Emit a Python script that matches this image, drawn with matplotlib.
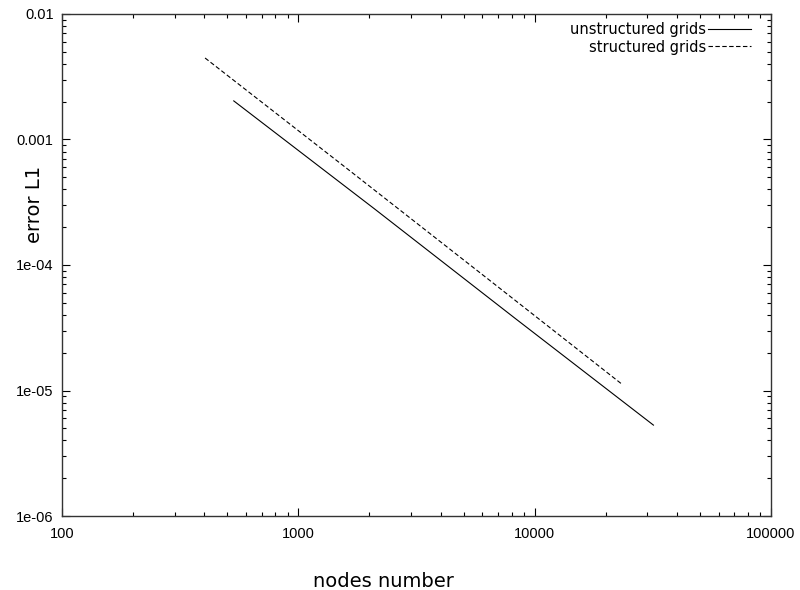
import matplotlib
matplotlib.use('Agg')
import matplotlib.pyplot as plt
from matplotlib.ticker import FixedLocator, FixedFormatter, LogLocator, NullFormatter

# values (log-log, straight lines)
unstruct_nodes = [533, 2100, 8200, 31800]
unstruct_err = [2.03e-3, 2.8e-4, 3.8e-5, 5.3e-6]
struct_nodes = [403, 1600, 6200, 23300]
struct_err = [4.46e-3, 5.9e-4, 8.0e-5, 1.13e-5]

xticks = [100, 1000, 10000, 100000]
xticklabels = ['100', '1000', '10000', '100000']
yticks = [1e-6, 1e-5, 1e-4, 1e-3, 1e-2]
yticklabels = ['1e-06', '1e-05', '1e-04', '0.001', '0.01']

fig = plt.figure(figsize=(8, 5.9), dpi=100)
ax = fig.add_axes([0.0775, 0.1254, 0.8863, 0.8509])

ax.plot(unstruct_nodes, unstruct_err, color='black', lw=0.8, label='unstructured grids')
ax.plot(struct_nodes, struct_err, color='black', lw=0.8, dashes=(4, 2.2), label='structured grids')

ax.set_xscale('log')
ax.set_yscale('log')
ax.set_xlim(100, 100000)
ax.set_ylim(1e-6, 1e-2)

ax.xaxis.set_major_locator(FixedLocator(xticks))
ax.xaxis.set_major_formatter(FixedFormatter(xticklabels))
ax.yaxis.set_major_locator(FixedLocator(yticks))
ax.yaxis.set_major_formatter(FixedFormatter(yticklabels))
ax.xaxis.set_minor_locator(LogLocator(base=10, subs=range(2, 10)))
ax.yaxis.set_minor_locator(LogLocator(base=10, subs=range(2, 10)))
ax.xaxis.set_minor_formatter(NullFormatter())
ax.yaxis.set_minor_formatter(NullFormatter())

ax.tick_params(which='both', direction='in', top=True, right=True, width=0.8)
ax.tick_params(which='major', length=6, labelsize=10.5)
ax.tick_params(axis='x', which='major', pad=8)
ax.tick_params(axis='y', which='major', pad=6)
ax.tick_params(which='minor', length=3)
for lab in ax.get_xticklabels() + ax.get_yticklabels():
    lab.set_family('Liberation Sans')

for s in ax.spines.values():
    s.set_linewidth(1.0)
    s.set_color('#333333')

# gnuplot puts the axis titles off-centre
ax.set_xlabel('nodes number', fontsize=14)
ax.xaxis.set_label_coords(0.4528, -0.1116)
ax.set_ylabel('error L1', fontsize=14)
ax.yaxis.set_label_coords(-0.0254, 0.6215)

ax.legend(loc='upper right', frameon=False, markerfirst=False, fontsize=10.5,
          handlelength=2.95, handletextpad=0.15, labelspacing=0.2,
          borderaxespad=0.4, bbox_to_anchor=(1 - 8 / 709, 1 + 4 / 502))

fig.savefig('out.png', dpi=100)
